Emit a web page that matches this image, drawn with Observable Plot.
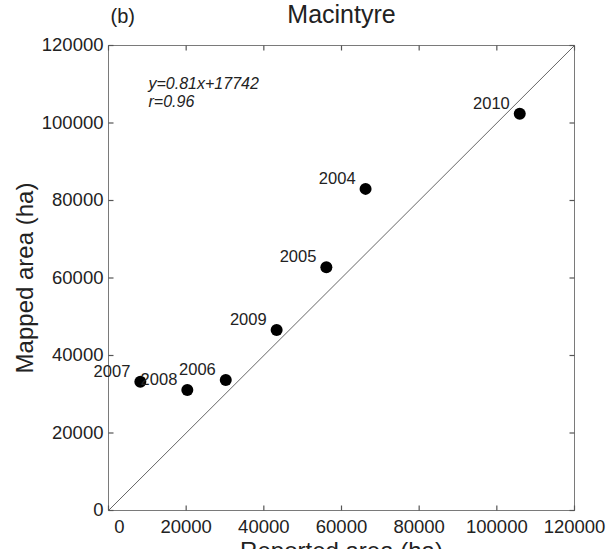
<!DOCTYPE html>
<html>
<head>
<meta charset="utf-8">
<script src="https://cdn.jsdelivr.net/npm/d3@7"></script>
<script src="https://cdn.jsdelivr.net/npm/@observablehq/plot@0.6"></script>
<style>
  html, body { margin: 0; padding: 0; background: #fff; }
  #chart { width: 609px; height: 549px; overflow: hidden; }
</style>
</head>
<body>
<div id="chart"></div>
<script>
// Data
const years    = ["2004", "2005", "2006", "2007", "2008", "2009", "2010"];
const reported = [66200, 56100, 30200, 8200, 20300, 43300, 105900];
const mapped   = [83000, 62800, 33700, 33200, 31100, 46600, 102400];
const ticks    = [0, 20000, 40000, 60000, 80000, 100000, 120000];
const domain   = [0, 120000];
const oneToOne = [0, 120000];
const title    = "Macintyre";
const panel    = "(b)";
const fitText  = ["y=0.81x+17742", "r=0.96"];
const xLabel   = "Reported area (ha)";
const yLabel   = "Mapped area (ha)";

const points = years.map((y, i) => ({year: y, x: reported[i], y: mapped[i]}));
const diag = oneToOne.map(v => ({x: v, y: v}));
const tickRows = ticks.map(t => ({t}));

const font = "'Liberation Sans', Arial, Helvetica, sans-serif";
const ink = "#222";
const axisGray = "#7a7a7a";
const tickGray = "#555";
const fmt = d3.format("d");
const W = 609, H = 549, mL = 108, mR = 35, mT = 45, mB = 39;
const tickLen = 5;
const innerW = W - mL - mR, innerH = H - mT - mB;
// inward tick length expressed in data units
const span = domain[1] - domain[0];
const tx = tickLen / innerW * span, ty = tickLen / innerH * span;

const chart = Plot.plot({
  width: W,
  height: H,
  marginLeft: mL,
  marginRight: mR,
  marginTop: mT,
  marginBottom: mB,
  style: {fontFamily: font, background: "#fff", color: ink, overflow: "visible"},
  x: {domain, ticks},
  y: {domain, ticks},
  marks: [
    Plot.frame({stroke: axisGray, strokeWidth: 1}),
    // inward ticks on all four sides
    Plot.link(tickRows, {x1: "t", x2: "t", y1: () => domain[0], y2: () => domain[0] + ty, stroke: tickGray, strokeWidth: 1.2}),
    Plot.link(tickRows, {x1: "t", x2: "t", y1: () => domain[1] - ty, y2: () => domain[1], stroke: tickGray, strokeWidth: 1.2}),
    Plot.link(tickRows, {y1: "t", y2: "t", x1: () => domain[0], x2: () => domain[0] + tx, stroke: tickGray, strokeWidth: 1.2}),
    Plot.link(tickRows, {y1: "t", y2: "t", x1: () => domain[1] - tx, x2: () => domain[1], stroke: tickGray, strokeWidth: 1.2}),
    // tick labels and axis titles
    Plot.axisX({anchor: "bottom", ticks: ticks.filter(t => t !== 0), tickSize: 0, tickPadding: 9, fontSize: 18.5,
      tickFormat: fmt, fill: ink, label: xLabel, labelAnchor: "center", labelArrow: "none", labelOffset: 48}),
    Plot.axisX({anchor: "bottom", ticks: [0], tickSize: 0, tickPadding: 9, fontSize: 18.5, dx: 11,
      tickFormat: fmt, fill: ink, label: null}),
    Plot.axisY({anchor: "left", ticks, tickSize: 0, tickPadding: 5, fontSize: 18.5, tickFormat: fmt, fill: ink,
      label: yLabel, labelAnchor: "center", labelArrow: "none", labelOffset: 93}),
    // 1:1 line
    Plot.line(diag, {x: "x", y: "y", stroke: "#666", strokeWidth: 1}),
    // points
    Plot.dot(points, {x: "x", y: "y", r: 6, fill: "#000", stroke: "none"}),
    Plot.text(points, {x: "x", y: "y", text: "year", textAnchor: "end", dx: -10, dy: -10, fontSize: 16.5, fill: ink}),
    // regression text
    Plot.text([fitText.join("\n")], {frameAnchor: "top-left", dx: 40, dy: 31, textAnchor: "start", lineAnchor: "top",
      lineHeight: 1.1, fontSize: 16, fontStyle: "italic", fill: ink}),
    // title and panel letter
    Plot.text([title], {frameAnchor: "top", dy: -23, lineAnchor: "bottom", fontSize: 25, fill: ink}),
    Plot.text([panel], {frameAnchor: "top-left", dx: 2, dy: -23, textAnchor: "start", lineAnchor: "bottom", fontSize: 20, fill: ink})
  ]
});
chart.querySelectorAll("[aria-label='x-axis label'] text, [aria-label='y-axis label'] text").forEach(t => {
  t.setAttribute("font-size", "24");
});
document.getElementById("chart").appendChild(chart);
</script>
</body>
</html>
